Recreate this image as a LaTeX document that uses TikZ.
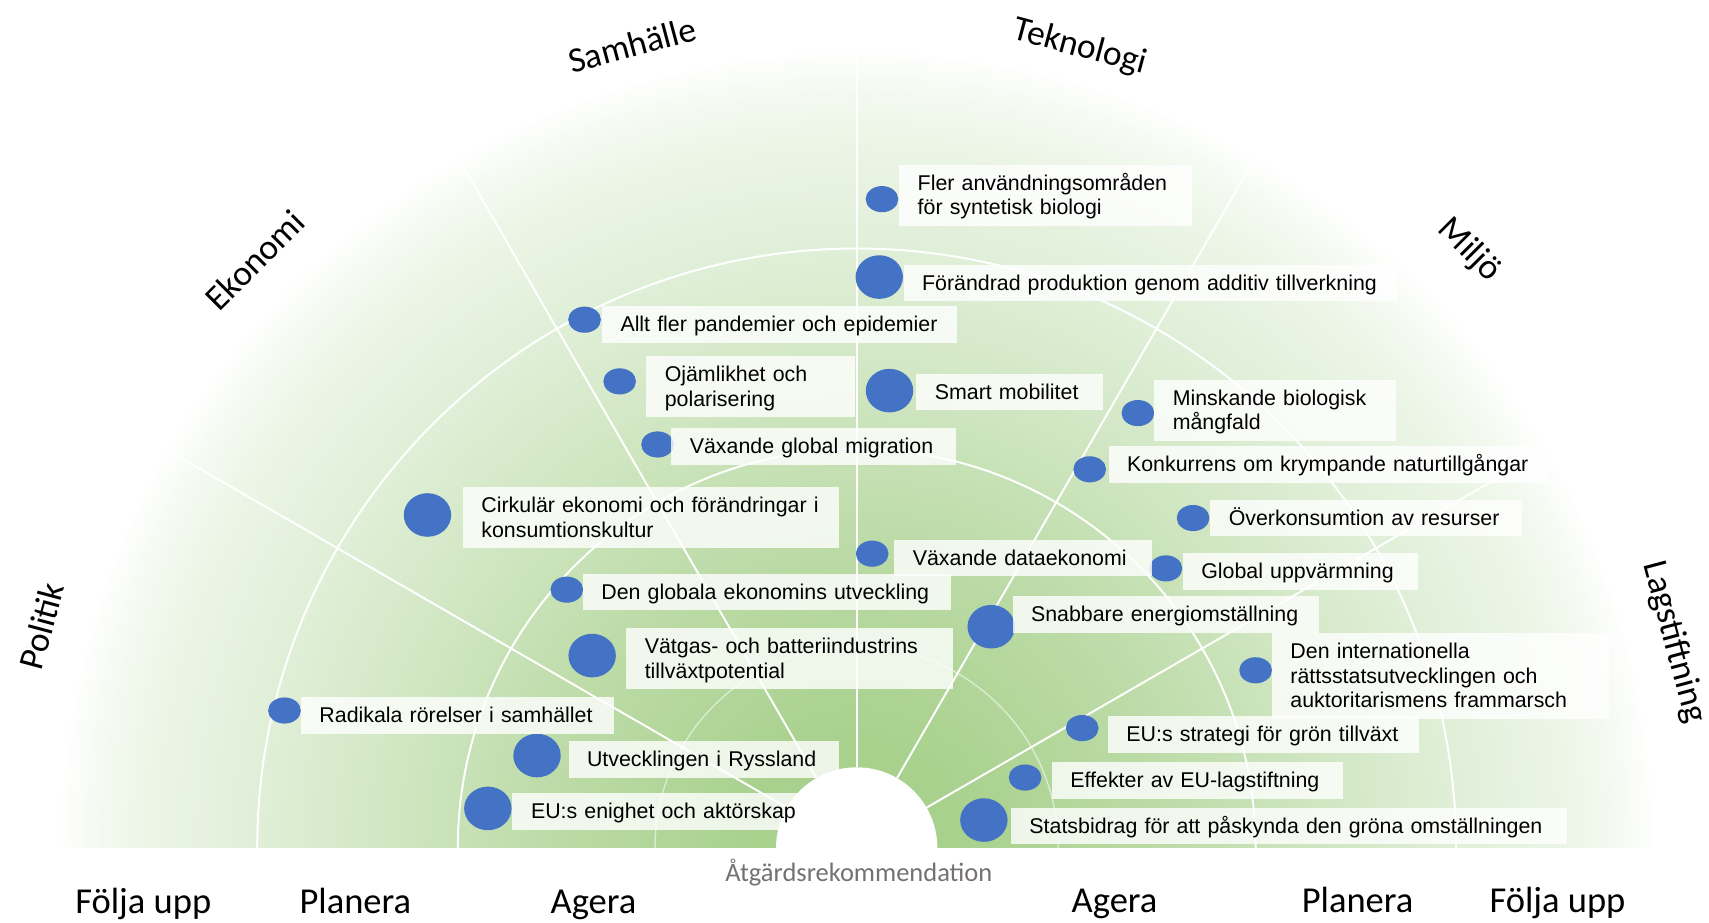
\documentclass[tikz,border=0pt]{standalone}
\usepackage{fontspec}
\setmainfont{Liberation Sans}
\newfontfamily\carlito{Carlito}
\usetikzlibrary{shapes.geometric}

\definecolor{dotblue}{HTML}{4472C4}
\definecolor{gA}{HTML}{A9D18E}
\definecolor{gB}{HTML}{BCDBA7}
\definecolor{gC}{HTML}{D3E8C6}
\definecolor{gD}{HTML}{E0EFD8}
\definecolor{gE}{HTML}{ECF5E6}
\definecolor{gF}{HTML}{F5FAF2}
\definecolor{notegray}{HTML}{757171}

% green fan: dark at the hub, fading to white at the rim
% (the rim of the shaded circle sits at 25bp)
\pgfdeclareradialshading{fan}{\pgfpoint{0bp}{0bp}}{%
  color(0bp)=(gA); color(3.4bp)=(gA); color(9.5bp)=(gB); color(15.2bp)=(gC);
  color(18.6bp)=(gD); color(22bp)=(gE); color(23.6bp)=(gF);
  color(24.8bp)=(white); color(50bp)=(white)}

% strut giving every label line the same height and depth
\newcommand\lstrut{\rule[-4.5pt]{0pt}{22.5pt}}

\tikzset{
  item/.style={anchor=north west, fill=white, fill opacity=0.8, text opacity=1,
    inner xsep=17pt, inner ysep=5.5pt, align=left,
    font=\fontsize{19.6}{22.5}\selectfont,
    execute at begin node=\lstrut, execute at end node=\lstrut},
  dotS/.style={ellipse, fill=dotblue, draw=none, inner sep=0pt,
    minimum width=30pt, minimum height=24pt},
  dotL/.style={ellipse, fill=dotblue, draw=none, inner sep=0pt,
    minimum width=43.5pt, minimum height=40pt},
  sector/.style={font=\carlito\fontsize{32.5}{39}\selectfont, inner sep=0pt},
  phase/.style={font=\carlito\fontsize{33.5}{40}\selectfont, anchor=base, inner sep=0pt},
  gridline/.style={white, line width=1.8pt},
  faintring/.style={white, opacity=0.55, line width=1.2pt}
}

\begin{document}
\begin{tikzpicture}[x=1pt, y=-1pt]
\useasboundingbox (0,0) rectangle (1568,846);
\fill[white] (0,0) rectangle (1568,846);

\coordinate (C) at (786,778);

% shaded half disc
\begin{scope}
  \clip (0,0) rectangle (1568,778);
  \shade[shading=fan] (C) circle[radius=740];
\end{scope}

% rings
\draw[faintring] ([shift={(0:185)}]C) arc[start angle=0, end angle=-180, radius=185];
\foreach \r in {366,550}
  \draw[gridline] ([shift={(0:\r)}]C) arc[start angle=0, end angle=-180, radius=\r];

% sector borders
\foreach \a in {30,60,90,120,150}
  \draw[gridline] ([shift={(-\a:74)}]C) -- ([shift={(-\a:728)}]C);

% hub
\fill[white] ([shift={(0:74)}]C) arc[start angle=0, end angle=-180, radius=74] -- cycle;

% sector names
\node[sector, rotate=75]  (politik) at (38,574.3)   {Politik};
\node[sector, rotate=45]  (ekonomi) at (234,238.5)  {Ekonomi};
\node[sector, rotate=15]  (samhalle) at (580,41)    {Samhälle};
\node[sector, rotate=-15] (teknologi) at (991,43.5) {Teknologi};
\node[sector, rotate=-45] (miljo) at (1348,229.5)   {Miljö};
\node[sector, rotate=-75] (lag) at (1536,589.5)     {Lagstiftning};

% phases along the base
\node[phase] (f1) at (131.5,838.5)  {Följa upp};
\node[phase] (p1) at (326,838.5)    {Planera};
\node[phase] (a1) at (544.5,838.5)  {Agera};
\node[phase] (a2) at (1022.6,837) {Agera};
\node[phase] (p2) at (1245.6,837) {Planera};
\node[phase] (f2) at (1429,837)   {Följa upp};
\node[anchor=base, inner sep=0pt, text=notegray, font=\carlito\fontsize{24.3}{29}\selectfont]
  (atg) at (788,808.5) {Åtgärdsrekommendation};

% trend markers
\node[dotS] (d1)  at (809.2,182.7) {};
\node[dotL] (d2)  at (806.7,254.2) {};
\node[dotS] (d3)  at (536.3,293.3) {};
\node[dotS] (d4)  at (568.5,349.9) {};
\node[dotL] (d5)  at (816.1,358.4) {};
\node[dotS] (d6)  at (603.3,407.8) {};
\node[dotS] (d7)  at (1044,379)    {};
\node[dotS] (d8)  at (999.8,430.6) {};
\node[dotS] (d9)  at (1094.6,475.3) {};
\node[dotL] (d10) at (392.2,472.5) {};
\node[dotS] (d11) at (800.2,508)   {};
\node[dotS] (d12) at (1069.7,521.5) {};
\node[dotS] (d13) at (520,541)     {};
\node[dotL] (d14) at (909.4,575)   {};
\node[dotL] (d15) at (543.3,601.5) {};
\node[dotS] (d16) at (1152,615)    {};
\node[dotS] (d17) at (261,651.9)   {};
\node[dotS] (d18) at (992.9,668)   {};
\node[dotL] (d19) at (492.7,693.2) {};
\node[dotS] (d20) at (940.5,713.4) {};
\node[dotL] (d21) at (447.6,741.7) {};
\node[dotL] (d22) at (902.7,752.4) {};

% trend labels
\node[item, text width=234.6pt] (t1) at (824.8,150.9) {Fler användningsområden\\för syntetisk biologi};
\node[item, text width=419pt] (t2) at (828.8,242.6) {Förändrad produktion genom additiv tillverkning};
\node[item, text width=292pt] (t3) at (552.1,280.8) {Allt fler pandemier och epidemier};
\node[item, text width=157.8pt] (t4) at (592.7,326.7) {Ojämlikhet och\\polarisering};
\node[item, text width=137pt] (t5) at (840.5,342.9) {Smart mobilitet};
\node[item, text width=227pt] (t6) at (615.7,392.5) {Växande global migration};
\node[item, text width=188pt] (t7) at (1058.8,348.1) {Minskande biologisk\\mångfald};
\node[item, text width=370pt] (t8) at (1016.9,409.3) {Konkurrens om krympande naturtillgångar};
\node[item, text width=252pt] (t9) at (1110.2,458.2) {Överkonsumtion av resurser};
\node[item, text width=311pt] (t10) at (424.5,446.6) {Cirkulär ekonomi och förändringar i\\konsumtionskultur};
\node[item, text width=202pt] (t11) at (820.3,494.9) {Växande dataekonomi};
\node[item, text width=182pt] (t12) at (1085,507.2) {Global uppvärmning};
\node[item, text width=304pt] (t13) at (534.6,526.4) {Den globala ekonomins utveckling};
\node[item, text width=247pt] (t14) at (928.8,546.9) {Snabbare energiomställning};
\node[item, text width=266pt] (t15) at (574.4,576) {Vätgas- och batteriindustrins\\tillväxtpotential};
\node[item, text width=275pt] (t16) at (1166.8,580.6) {Den internationella\\rättsstatsutvecklingen och\\auktoritarismens frammarsch};
\node[item, text width=253pt] (t17) at (275.9,639.6) {Radikala rörelser i samhället};
\node[item, text width=251pt] (t18) at (1016.3,657) {EU:s strategi för grön tillväxt};
\node[item, text width=214pt] (t19) at (521.4,680) {Utvecklingen i Ryssland};
\node[item, text width=233pt] (t20) at (964.9,699.2) {Effekter av EU-lagstiftning};
\node[item, text width=246pt] (t21) at (470,727.4) {EU:s enighet och aktörskap};
\node[item, text width=476pt] (t22) at (927.3,741.1) {Statsbidrag för att påskynda den gröna omställningen};
\end{tikzpicture}
\end{document}
